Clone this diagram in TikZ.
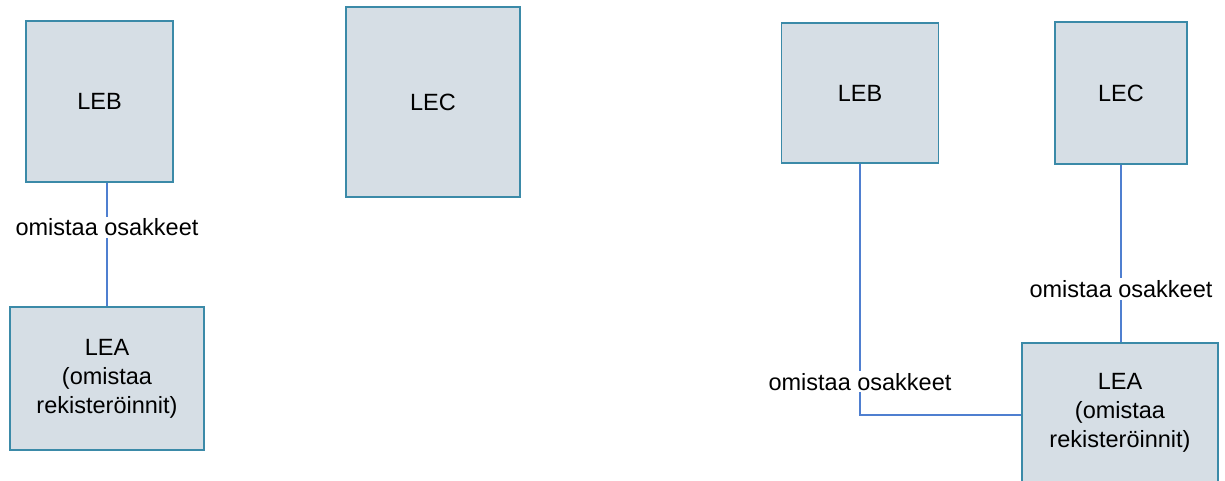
\documentclass[tikz,border=0pt]{standalone}
\usepackage{fontspec}
\setmainfont{Liberation Sans}
\usepackage{xcolor}
\usepackage{tikz}
\definecolor{boxfill}{HTML}{D6DEE5}
\definecolor{boxline}{HTML}{3B8AA8}
\definecolor{linkline}{HTML}{4F7FD0}
\tikzset{
  entity/.style={draw=boxline,line width=1.3pt,fill=boxfill,align=center,
    inner sep=0pt,font=\fontsize{23.5}{29}\selectfont},
  owns/.style={draw=linkline,line width=1.1pt},
  ownlabel/.style={fill=white,inner sep=2pt,font=\fontsize{23.5}{29}\selectfont}
}
\begin{document}
\begin{tikzpicture}[x=1pt,y=-1pt]
    \useasboundingbox (0,0) rectangle (1225,481);
    % first case
    \node[entity,minimum width=147pt,minimum height=161pt] (lebL) at (99.5,101.5) {LEB};
    \node[entity,minimum width=194pt,minimum height=143pt] (leaL) at (107,378.5)
      {LEA\\(omistaa\\rekisteröinnit)};
    \node[entity,minimum width=174pt,minimum height=190pt] (lecM) at (433,102) {LEC};
    \draw[owns] (leaL.north |- lebL.south) -- (leaL.north)
      node[ownlabel,pos=0.36] (ownL) {omistaa osakkeet};
    % second case
    \node[entity,minimum width=157pt,minimum height=140pt] (lebR) at (860,93) {LEB};
    \node[entity,minimum width=132pt,minimum height=142pt] (lecR) at (1121,93) {LEC};
    \node[entity,minimum width=196pt,minimum height=140pt] (leaR) at (1120,413)
      {LEA\\(omistaa\\rekisteröinnit)};
    \draw[owns] (lebR.south) |- ([yshift=-2pt]leaR.west)
      node[ownlabel,pos=0.434] (ownB) {omistaa osakkeet};
    \draw[owns] (lecR.south) -- (lecR.south |- leaR.north)
      node[ownlabel,pos=0.70] (ownC) {omistaa osakkeet};
  \end{tikzpicture}
\end{document}
